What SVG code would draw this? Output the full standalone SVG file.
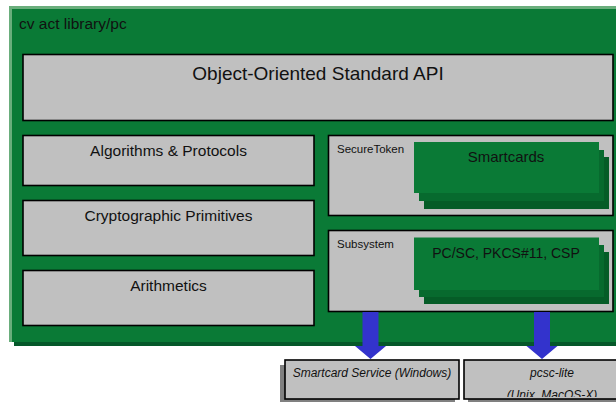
<svg xmlns="http://www.w3.org/2000/svg" width="616" height="402" viewBox="0 0 616 402">
<style>
.t{font-family:"Liberation Sans",Arial,sans-serif;fill:#111}
.box{fill:#c0c0c0;stroke:#000;stroke-width:1.6}
.g1{fill:#0a7a36}
.g2{fill:#076a2e}
.g3{fill:#055c27}
.arr{fill:#3333cc}
.it{font-style:italic}
</style>
<defs>
<clipPath id="c2"><rect x="464" y="360" width="160" height="37"/></clipPath>
</defs>
<g id="outer">
<rect x="9" y="6" width="620" height="336" fill="#6aae7c"/>
<rect x="14" y="12" width="620" height="334" fill="#05582a"/>
<rect x="12" y="9" width="620" height="333" fill="#0a7a36"/>
<text class="t" x="19" y="29" font-size="15.5">cv act library/pc</text>
</g>
<g id="api">
<rect class="box" x="23" y="54.5" width="590" height="66"/>
<text class="t" x="318" y="80" font-size="19" text-anchor="middle">Object-Oriented Standard API</text>
</g>
<g id="algorithms">
<rect class="box" x="23" y="135.5" width="291" height="50"/>
<text class="t" x="168.5" y="156" font-size="15.5" text-anchor="middle">Algorithms &amp; Protocols</text>
</g>
<g id="primitives">
<rect class="box" x="23" y="200.5" width="291" height="55"/>
<text class="t" x="168.5" y="220.5" font-size="15.5" text-anchor="middle">Cryptographic Primitives</text>
</g>
<g id="arithmetics">
<rect class="box" x="23" y="270.5" width="291" height="55"/>
<text class="t" x="168.5" y="290.5" font-size="15.5" text-anchor="middle">Arithmetics</text>
</g>
<g id="securetoken">
<rect class="box" x="328.5" y="135.5" width="284.5" height="80"/>
<text class="t" x="337" y="152.5" font-size="11.5">SecureToken</text>
</g>
<g id="smartcards">
<rect class="g3" x="424" y="157" width="185" height="52"/>
<rect class="g2" x="419" y="150" width="185" height="51"/>
<rect class="g1" x="414" y="142" width="185" height="51"/>
<text class="t" x="506" y="161.5" font-size="15" text-anchor="middle">Smartcards</text>
</g>
<g id="subsystem">
<rect class="box" x="328.5" y="230.5" width="284.5" height="81"/>
<text class="t" x="337" y="248" font-size="11.5">Subsystem</text>
</g>
<g id="pcsc">
<rect class="g3" x="424" y="252" width="185" height="52"/>
<rect class="g2" x="419" y="245" width="185" height="52"/>
<rect class="g1" x="414" y="237.5" width="185" height="52.5"/>
<text class="t" x="506" y="258" font-size="14" text-anchor="middle">PC/SC, PKCS#11, CSP</text>
</g>
<g id="connectors">
<polygon class="arr" points="362.5,312 378.5,312 378.5,346 386,346 370.5,359 355,346 362.5,346"/>
<polygon class="arr" points="534,312 550,312 550,346 557.5,346 542,359 526.5,346 534,346"/>
</g>
<g id="winservice">
<rect x="280" y="365" width="175" height="40" fill="#808080"/>
<rect class="box" x="285" y="360" width="174" height="39"/>
<text class="t it" x="372" y="377" font-size="12" text-anchor="middle">Smartcard Service (Windows)</text>
</g>
<g id="pcsclite">
<rect x="468" y="365" width="160" height="40" fill="#808080"/>
<rect class="box" x="464" y="360" width="160" height="39"/>
<g clip-path="url(#c2)">
<text class="t it" x="552" y="377" font-size="12" text-anchor="middle">pcsc-lite</text>
<text class="t it" x="552" y="399" font-size="12" text-anchor="middle">(Unix, MacOS-X)</text>
</g>
</g>
</svg>
